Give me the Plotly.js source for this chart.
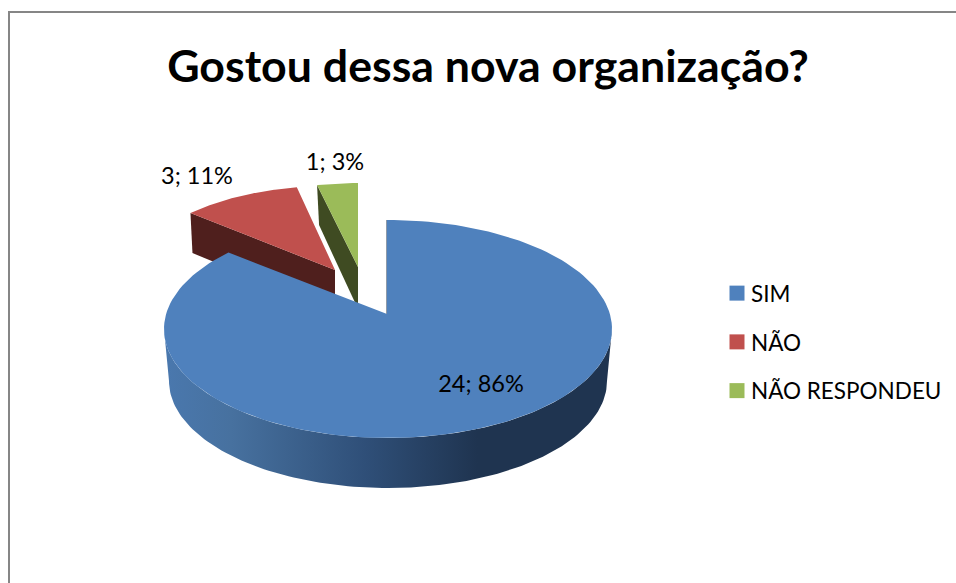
<!DOCTYPE html>
<html>
<head>
<meta charset="utf-8">
<script src="https://cdn.plot.ly/plotly-3.0.1.min.js"></script>
<style>html,body{margin:0;padding:0;background:#fff;overflow:hidden}</style>
</head>
<body>
<div id="chart" style="width:956px;height:583px"></div>
<script>
// Data
const categories = ["SIM", "NÃO", "NÃO RESPONDEU"];
const values = [24, 3, 1];
const percents = [86, 11, 3];
const chartTitle = "Gostou dessa nova organização?";

// Style
const topColors = ["#4f81bd", "#c0504d", "#9bbb59"];
const sideColors = ["#1f3450", "#4f1f1d", "#3f4b22"];
const fontName = "Lato, Carlito, Calibri, sans-serif";

// Hidden pixel-sized axes; the view geometry of the tilted pie
const W = 956, H = 583;
const depth = 42;
const views = [
  {ax: 387, ay: 314, cx: 388, cy: 329, rx: 224, ry: 109, dirx: 224, diry: 109},
  {ax: 335, ay: 270, cx: 331, cy: 272, rx: 193, ry: 86, dirx: 170, diry: 84},
  {ax: 358, ay: 267, cx: 358, cy: 267, rx: 184, ry: 84, dirx: 184, diry: 84}
];
const labelPos = [[481, 386], [197, 178], [335, 164]];

const total = values.reduce((a, b) => a + b, 0);

// point where the ray at pie angle theta leaves the slice's ellipse
function rim(v, theta) {
  const dx = v.dirx * Math.sin(theta), dy = -v.diry * Math.cos(theta);
  const ox = (v.ax - v.cx) / v.rx, oy = (v.ay - v.cy) / v.ry;
  const ux = dx / v.rx, uy = dy / v.ry;
  const a = ux * ux + uy * uy, b = 2 * (ox * ux + oy * uy), c = ox * ox + oy * oy - 1;
  const s = (-b + Math.sqrt(b * b - 4 * a * c)) / (2 * a);
  return [v.ax + dx * s, v.ay + dy * s];
}

function sliceArc(i) {
  const before = values.slice(0, i).reduce((a, b) => a + b, 0);
  const t0 = before / total * 2 * Math.PI, t1 = (before + values[i]) / total * 2 * Math.PI;
  const n = 150, pts = [];
  for (let k = 0; k <= n; k++) pts.push(rim(views[i], t0 + (t1 - t0) * k / n));
  return pts;
}

const traces = [];
const poly = (pts, extra) => Object.assign({
  type: "scatter", mode: "lines", x: pts.map(p => p[0]), y: pts.map(p => p[1]),
  fill: "toself", line: {width: 0}, showlegend: false, hoverinfo: "skip"
}, extra);

const arcs = values.map((_, i) => sliceArc(i));
const apex = i => [views[i].ax, views[i].ay];

// far slices: cut faces, then tops
[1, 2].forEach(i => {
  const leftEnd = arcs[i][0];
  const a = apex(i);
  const side = [leftEnd, a, [a[0], a[1] + depth], [leftEnd[0] + 2, leftEnd[1] + depth - 2]];
  traces.push(poly(side, {fillcolor: sideColors[i]}));
  traces.push(poly([a].concat(arcs[i]), {fillcolor: topColors[i]}));
});

// near slice: curved wall with shading, thin inner edge, top face
const v = views[0];
const wall = [];
const lower = {cx: 388, cy: 381, rx: 219, ry: 107};
for (let k = 0; k <= 120; k++) {
  const t = Math.PI * k / 120;
  wall.push([v.cx - v.rx * Math.cos(t), v.cy + v.ry * Math.sin(t)]);
}
for (let k = 120; k >= 0; k--) {
  const t = Math.PI * k / 120;
  wall.push([lower.cx - lower.rx * Math.cos(t), lower.cy + lower.ry * Math.sin(t)]);
}
traces.push(poly(wall, {
  fillcolor: sideColors[0],
  fillgradient: {type: "horizontal", colorscale: [
    [0, "#4a78ae"], [0.15, "#47719f"], [0.45, "#2f4f78"], [0.7, "#1f3450"], [1, "#1f3450"]
  ]}
}));
traces.push({
  type: "scatter", mode: "lines", x: [arcs[0][0][0], v.ax], y: [arcs[0][0][1], v.ay],
  line: {color: sideColors[0], width: 1}, showlegend: false, hoverinfo: "skip"
});
traces.push(poly([apex(0)].concat(arcs[0]), {fillcolor: topColors[0]}));

// data labels
traces.push({
  type: "scatter", mode: "text",
  x: labelPos.map(p => p[0]), y: labelPos.map(p => p[1]),
  text: values.map((val, i) => val + "; " + percents[i] + "%"),
  textposition: "middle center",
  textfont: {family: fontName, size: 23.5, color: "#000"},
  showlegend: false, hoverinfo: "skip"
});

// legend entries
categories.forEach((c, i) => traces.push({
  type: "scatter", mode: "markers", x: [null], y: [null], name: c,
  legendgroup: c,
  marker: {symbol: "square", size: 15, color: topColors[i]}
}));

const layout = {
  width: W, height: H,
  margin: {l: 0, r: 0, t: 0, b: 0},
  paper_bgcolor: "#fff", plot_bgcolor: "#fff",
  xaxis: {range: [0, W], visible: false, fixedrange: true},
  yaxis: {range: [H, 0], visible: false, fixedrange: true},
  title: {
    text: "<b>" + chartTitle + "</b>",
    x: 488 / W, xanchor: "center", y: 1 - 66 / H, yanchor: "middle",
    font: {family: fontName, size: 44.7, color: "#000"}
  },
  legend: {
    x: 711 / W, xanchor: "left", y: 1 - 272 / H, yanchor: "top",
    font: {family: fontName, size: 22.5, color: "#000"},
    itemwidth: 30, tracegroupgap: 16.5, bgcolor: "rgba(0,0,0,0)",
    traceorder: "grouped", itemclick: false, itemdoubleclick: false
  },
  shapes: [{
    type: "path", xref: "x", yref: "y",
    path: `M 9 ${H + 5} L 9 12 L ${W + 5} 12`,
    line: {color: "#868686", width: 2}
  }],
  showlegend: true
};
Plotly.newPlot("chart", traces, layout, {displayModeBar: false}).then(() => {
  document.querySelectorAll(".legend .legendpoints").forEach(g => g.setAttribute("transform", "translate(6,0)"));
});
</script>
</body>
</html>
